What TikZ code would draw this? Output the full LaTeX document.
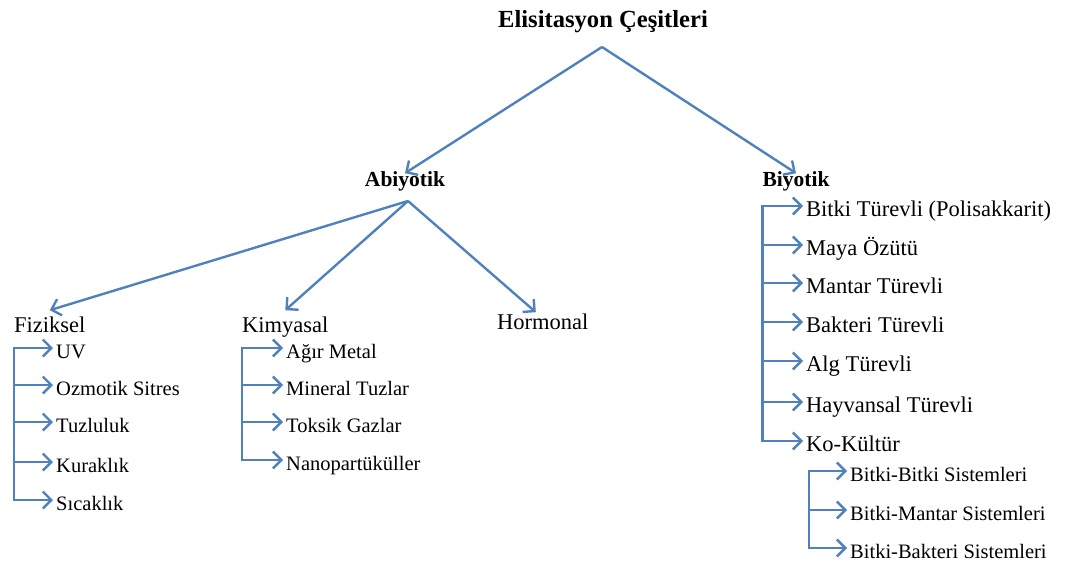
\documentclass[tikz,border=0pt]{standalone}
\usepackage{fontspec}
\setmainfont{Liberation Serif}
\usetikzlibrary{arrows.meta, positioning}
\definecolor{elblue}{RGB}{79,129,189}

\tikzset{
  lnk/.style={draw=elblue, line width=2.4pt},
  trunk/.style={lnk, line cap=rect},
  arr/.style={lnk, -{Straight Barb[length=8.5pt,width=17pt]}},
  tit/.style={font=\fontsize{24.6}{28}\selectfont\bfseries, anchor=base, inner sep=0pt},
  kind/.style={font=\fontsize{21.5}{26}\selectfont\bfseries, anchor=base, inner xsep=0pt, inner ysep=6pt,
               text height=.66em, text depth=0pt},
  sect/.style={font=\fontsize{22.5}{27}\selectfont, anchor=base west, inner xsep=0pt, inner ysep=6pt,
               text height=.66em, text depth=0pt},
  leaf/.style={font=\fontsize{20.5}{24}\selectfont, anchor=west, inner xsep=3pt, inner ysep=0pt,
               text height=20pt, text depth=0pt},
  bleaf/.style={leaf, font=\fontsize{22.5}{27}\selectfont},
}

\begin{document}
\begin{tikzpicture}[x=1pt, y=-1pt]
\useasboundingbox (0,0) rectangle (1066,567);

\draw   (603,28) node[tit](title){Elisitasyon Çeşitleri}
        (405,186) node[kind](abi){Abiyotik}   (796,186) node[kind](biy){Biyotik};
\coordinate (top) at (602,47);
\coordinate (abi-r) at (408,201);

\draw   (14,332) node[sect](fiz){Fiziksel}   (242,332) node[sect](kim){Kimyasal}
        (497,329) node[sect](hor){Hormonal};

% fiziksel
\draw   (53,348) node[leaf](uv){UV}          (53,385) node[leaf](ozm){Ozmotik Sitres}
        (53,422) node[leaf](tuz){Tuzluluk}   (53,462) node[leaf](kur){Kuraklık}
        (53,500) node[leaf](sic){Sıcaklık};
% kimyasal
\draw   (283,348) node[leaf](agr){Ağır Metal}      (283,385) node[leaf](min){Mineral Tuzlar}
        (283,422) node[leaf](tok){Toksik Gazlar}   (283,460) node[leaf](nan){Nanopartüküller};
% biyotik
\draw   (803,206) node[bleaf](btk){Bitki Türevli (Polisakkarit)}
        (803,245) node[bleaf](may){Maya Özütü}
        (803,283) node[bleaf](man){Mantar Türevli}
        (803,322) node[bleaf](bak){Bakteri Türevli}
        (803,361) node[bleaf](alg){Alg Türevli}
        (803,402) node[bleaf](hay){Hayvansal Türevli}
        (803,441) node[bleaf](ko){Ko-Kültür};
\coordinate (ko-x) at ([xshift=6pt]ko.west);
\draw   (847,471) node[leaf](bb){Bitki-Bitki Sistemleri}
        (847,510) node[leaf](bm){Bitki-Mantar Sistemleri}
        (847,548) node[leaf](bk){Bitki-Bakteri Sistemleri};

\path
    (top) edge[arr] (abi.north)
    (top) edge[arr] (biy.north)
    (abi-r) edge[arr] ([yshift=9pt]fiz.north)
    (abi-r) edge[arr] ([yshift=9pt]kim.north)
    (abi-r) edge[arr] ([xshift=-7pt,yshift=4pt]hor.north);

\draw[trunk] (uv.west -| fiz.west) -- (sic.west -| fiz.west);
\path
    (uv.west -| fiz.west) edge[arr] (uv.west)
    (ozm.west -| fiz.west) edge[arr] (ozm.west)
    (tuz.west -| fiz.west) edge[arr] (tuz.west)
    (kur.west -| fiz.west) edge[arr] (kur.west)
    (sic.west -| fiz.west) edge[arr] (sic.west);

\draw[trunk] (agr.west -| kim.west) -- (nan.west -| kim.west);
\path
    (agr.west -| kim.west) edge[arr] (agr.west)
    (min.west -| kim.west) edge[arr] (min.west)
    (tok.west -| kim.west) edge[arr] (tok.west)
    (nan.west -| kim.west) edge[arr] (nan.west);

\draw[trunk] (btk.west -| biy.west) -- (ko.west -| biy.west);
\path
    (btk.west -| biy.west) edge[arr] (btk.west)
    (may.west -| biy.west) edge[arr] (may.west)
    (man.west -| biy.west) edge[arr] (man.west)
    (bak.west -| biy.west) edge[arr] (bak.west)
    (alg.west -| biy.west) edge[arr] (alg.west)
    (hay.west -| biy.west) edge[arr] (hay.west)
    (ko.west -| biy.west) edge[arr] (ko.west);

\draw[trunk] (bb.west -| ko-x) -- (bk.west -| ko-x);
\path
    (bb.west -| ko-x) edge[arr] (bb.west)
    (bm.west -| ko-x) edge[arr] (bm.west)
    (bk.west -| ko-x) edge[arr] (bk.west);
\end{tikzpicture}
\end{document}
